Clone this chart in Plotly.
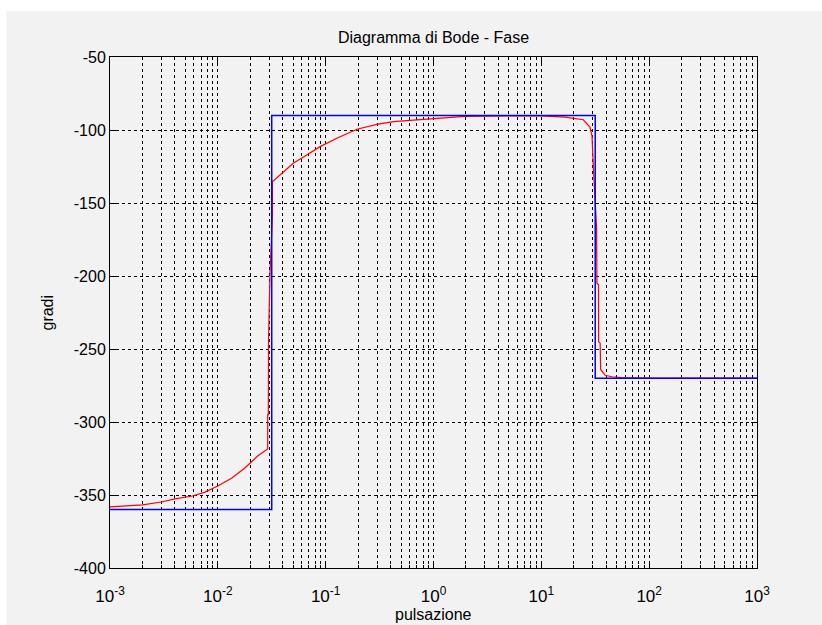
import plotly.graph_objects as go

# ---- data ----
# asymptotic (blue) phase diagram
asym_w = [0.001, 0.0316, 0.0316, 31.6, 31.6, 1000]
asym_phase = [-360, -360, -90, -90, -270, -270]

# real (red) phase curve
real_w = [0.001, 0.002, 0.003, 0.004, 0.0058, 0.0076, 0.01, 0.0135, 0.0178, 0.0234,
          0.0290, 0.0290, 0.0294, 0.0295, 0.0305, 0.0321, 0.0321, 0.0327, 0.039, 0.050,
          0.0668, 0.0887, 0.127, 0.195, 0.298, 0.425, 0.652, 1.0, 1.95, 5.0,
          10.0, 16.6, 24.5, 28.2, 29.5, 30.4, 32.5, 32.8, 33.9, 34.0,
          35.1, 35.5, 39.1, 45.1, 55.8, 100, 1000]
real_phase = [-358.2, -356.8, -354.8, -352.7, -350.7, -348.0, -343.8, -338.4, -331.5, -323.3,
              -318.5, -295.0, -295.0, -244.0, -197.0, -158.0, -135.0, -134.9, -129.7, -122.8,
              -117.1, -111.4, -105.7, -99.5, -96.1, -94.3, -93.2, -92.0, -90.6, -90.3,
              -90.3, -91.2, -93.0, -98.0, -104.0, -126.0, -166.0, -205.0, -206.0, -245.0,
              -246.0, -264.0, -268.0, -269.0, -269.6, -269.9, -270.0]

x_major = [0.001, 0.01, 0.1, 1, 10, 100, 1000]
x_labels = ["10<sup>-3</sup>", "10<sup>-2</sup>", "10<sup>-1</sup>", "10<sup>0</sup>",
            "10<sup>1</sup>", "10<sup>2</sup>", "10<sup>3</sup>"]
y_ticks = [-400, -350, -300, -250, -200, -150, -100, -50]
y_labels = ["-400", "-350", "-300", "-250", "-200", "-150", "-100", "-50"]

title_text = "Diagramma di Bode - Fase"
x_title = "pulsazione"
y_title = "gradi"

minor_vals = [m * d for d in [0.001, 0.01, 0.1, 1, 10, 100] for m in range(2, 10)]

FONT = "Liberation Sans"
FS = 16
GRID = dict(gridcolor="black", gridwidth=1, griddash="3px,3px")

fig = go.Figure()
fig.add_trace(go.Scatter(x=real_w, y=real_phase, mode="lines",
                         line=dict(color="#ff0000", width=1.2), hoverinfo="skip"))
fig.add_trace(go.Scatter(x=asym_w, y=asym_phase, mode="lines",
                         line=dict(color="#0000ff", width=1.5), hoverinfo="skip"))

fig.update_layout(
    width=822, height=625,
    margin=dict(l=110, r=65, t=57, b=57),
    paper_bgcolor="white",
    plot_bgcolor="white",
    showlegend=False,
    font=dict(family=FONT, size=FS, color="black"),
    title=dict(text=title_text, x=0.5, xref="paper", y=1 - 37 / 625, yref="container",
               xanchor="center", yanchor="middle", font=dict(family=FONT, size=FS, color="black")),
    shapes=[dict(type="rect", xref="paper", yref="paper", x0=-0.16, x1=1.2, y0=-0.2, y1=1.09,
                 fillcolor="#f2f2f2", line=dict(width=0), layer="below")],
    annotations=[
        dict(text=y_title, xref="paper", yref="paper", x=(47 - 110) / 647, y=0.5,
             textangle=-90, showarrow=False, xanchor="center", yanchor="middle",
             font=dict(family=FONT, size=FS)),
        dict(text=x_title, xref="paper", yref="paper", x=0.5, y=(568 - 614) / 511,
             showarrow=False, xanchor="center", yanchor="middle",
             font=dict(family=FONT, size=FS)),
    ],
)

fig.update_xaxes(
    type="log", range=[-3, 3], tickmode="array", tickvals=x_major, ticktext=x_labels,
    ticks="inside", ticklen=6, tickcolor="black", showline=True, linecolor="black",
    linewidth=1, mirror="allticks", showgrid=True, zeroline=False, ticklabelstandoff=13,
    tickfont=dict(family=FONT, size=17),
    minor=dict(tickmode="array", tickvals=minor_vals, ticks="inside", ticklen=3,
               tickcolor="black", showgrid=True, **GRID),
    **GRID,
)
fig.update_yaxes(
    range=[-400, -50], tickmode="array", tickvals=y_ticks, ticktext=y_labels,
    ticks="inside", ticklen=6, tickcolor="black", showline=True, linecolor="black",
    linewidth=1, mirror="allticks", showgrid=True, zeroline=False,
    **GRID,
)

fig.write_html("out.html")
